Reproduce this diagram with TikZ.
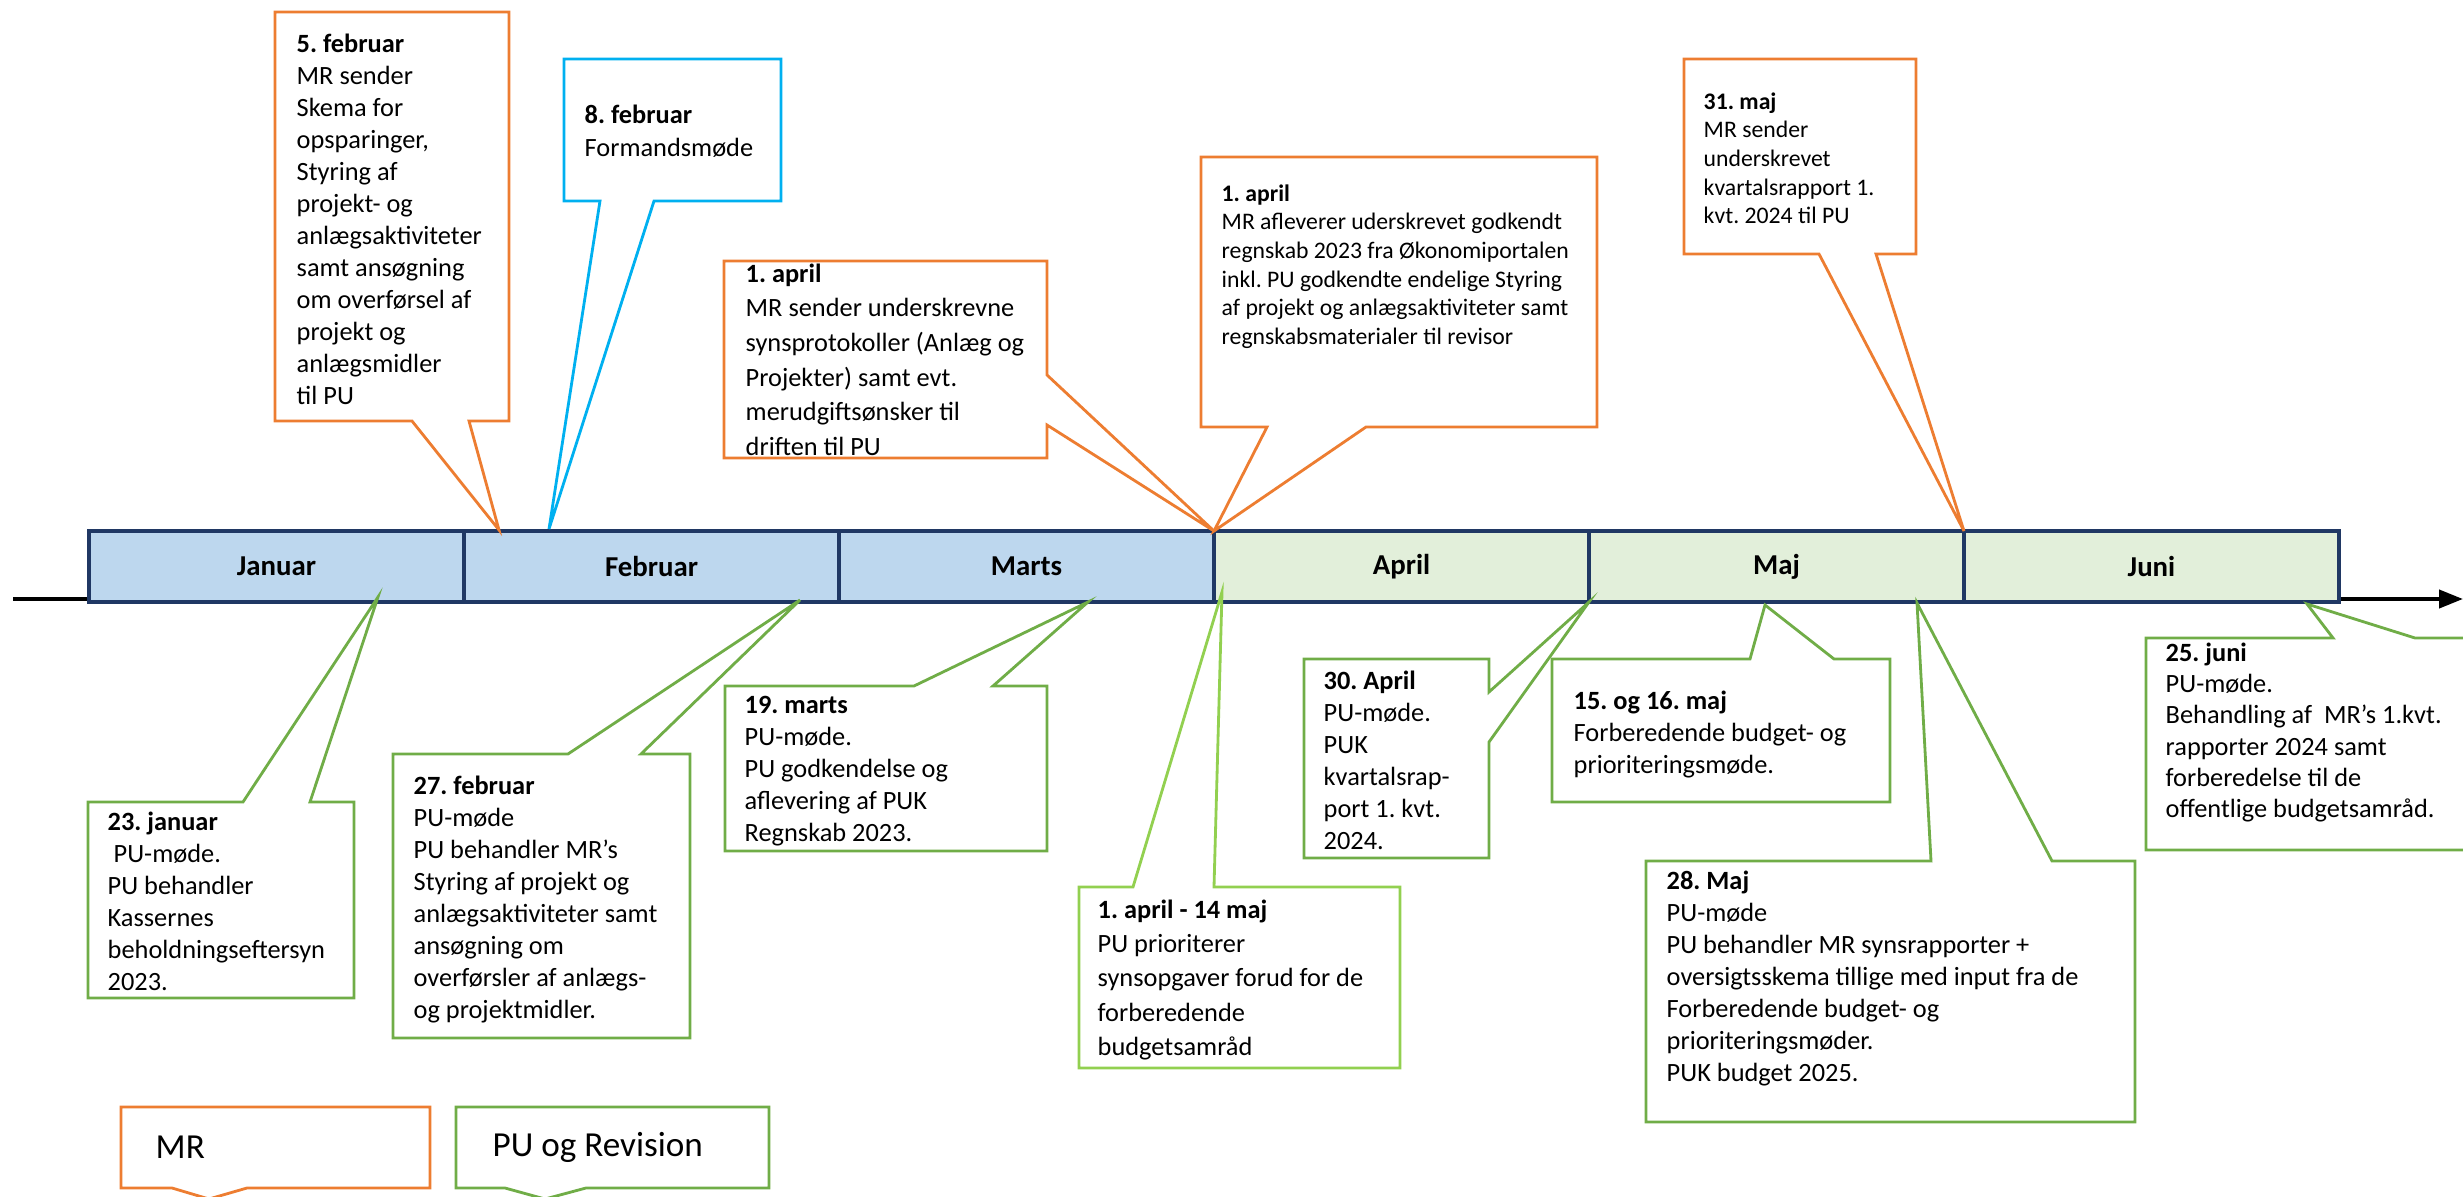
\documentclass[tikz,border=0pt]{standalone}
\usepackage{fontspec}
\setmainfont{Carlito}
\usetikzlibrary{positioning,arrows.meta}
\frenchspacing

\definecolor{mrorange}{HTML}{ED7D31}
\definecolor{formcyan}{HTML}{00B0F0}
\definecolor{pugreen}{HTML}{70AD47}
\definecolor{pulight}{HTML}{92D050}
\definecolor{monthblue}{HTML}{BDD7EE}
\definecolor{monthgreen}{HTML}{E2EFDA}
\definecolor{monthedge}{HTML}{203864}

\begin{document}
\begin{tikzpicture}[x=0.1mm, y=-0.1mm,
    month/.style={draw=monthedge, line width=0.9pt, minimum width=37.5mm, minimum height=7.1mm,
      inner sep=0pt, outer sep=0pt, font=\fontsize{8.2}{10}\selectfont\bfseries},
    txt/.style={anchor=north west, inner sep=0pt, align=left, font=\fontsize{7.5}{9.1}\selectfont},
    smalltxt/.style={font=\fontsize{6.75}{8.15}\selectfont},
    mrcall/.style={draw=mrorange, line width=0.8pt, fill=white},
    formcall/.style={draw=formcyan, line width=0.8pt, fill=white},
    pucall/.style={draw=pugreen, line width=0.8pt, fill=white},
    legtxt/.style={anchor=west, inner sep=0pt, font=\fontsize{10}{12}\selectfont}]
      \useasboundingbox (0,0) rectangle (2463,1197);

      % time axis
      \coordinate (axisstart) at (13,599);
      \coordinate (axisend) at (2463,599);
      \draw[line width=1.15pt, -{Triangle[length=2.4mm,width=1.8mm]}] (axisstart) -- (axisend);

      % months
      \node [month, fill=monthblue, anchor=north west] (jan) at (89,531) {Januar};
      \node [month, fill=monthblue, right=0pt of jan] (feb) {Februar};
      \node [month, fill=monthblue, right=0pt of feb] (mar) {Marts};
      \node [month, fill=monthgreen, right=0pt of mar] (apr) {April};
      \node [month, fill=monthgreen, right=0pt of apr] (maj) {Maj};
      \node [month, fill=monthgreen, right=0pt of maj] (jun) {Juni};

      % tips on the axis
      \coordinate (feb5tip) at (499,530);
      \coordinate (feb8tip) at (549,529);
      \coordinate (apr1tip) at (apr.north west);
      \coordinate (maj31tip) at (jun.north west);
      \coordinate (jan23tip) at (378,597);
      \coordinate (feb27tip) at (800,600);
      \coordinate (mar19tip) at (1088,602);
      \coordinate (apr14tip) at (1222,592);
      \coordinate (apr30tip) at (maj.south west);
      \coordinate (maj15tip) at (1765,605);
      \coordinate (maj28tip) at (1917,603);
      \coordinate (jun25tip) at (2307,604);

      % upper callouts (MR)
      \draw [mrcall] (275,421) -- (275,12) -- (509,12) -- (509,421) -- (469,421) -- (feb5tip) -- (412,421) -- cycle;
      \draw [formcall] (564,201) -- (564,59) -- (781,59) -- (781,201) -- (654,201) -- (feb8tip) -- (600,201) -- cycle;
      \draw [mrcall] (724,261) -- (1047,261) -- (1047,375) -- (apr1tip) -- (1047,425) -- (1047,458) -- (724,458) -- cycle;
      \draw [mrcall] (1201,157) -- (1597,157) -- (1597,427) -- (1366,427) -- (apr1tip) -- (1267,427) -- (1201,427) -- cycle;
      \draw [mrcall] (1684,59) -- (1916,59) -- (1916,254) -- (1876,254) -- (maj31tip) -- (1819,254) -- (1684,254) -- cycle;

      \node [txt] (feb5) at (296,33) {\textbf{5. februar}\\MR sender\\Skema for\\opsparinger,\\Styring af\\projekt- og\\anlægsaktiviteter\\samt ansøgning\\om overførsel af\\projekt og\\anlægsmidler\\til PU};
      \node [txt, font=\fontsize{7.5}{9.4}\selectfont] (feb8) at (584,104) {\textbf{8. februar}\\Formandsmøde};
      \node [txt, font=\fontsize{7.5}{9.87}\selectfont] (apr1a) at (745,263) {\textbf{1. april}\\MR sender underskrevne\\synsprotokoller (Anlæg og\\Projekter) samt evt.\\merudgiftsønsker til\\driften til PU};
      \node [txt, smalltxt] (apr1b) at (1221,184) {\textbf{1. april}\\MR afleverer uderskrevet godkendt\\regnskab 2023 fra Økonomiportalen\\inkl. PU godkendte endelige Styring\\af projekt og anlægsaktiviteter samt\\regnskabsmaterialer til revisor};
      \node [txt, smalltxt] (maj31) at (1703,92) {\textbf{31. maj}\\MR sender\\underskrevet\\kvartalsrapport 1.\\kvt. 2024 til PU};

      % lower callouts (PU og Revision)
      \draw [pucall] (88,802) -- (243,802) -- (jan23tip) -- (310,802) -- (354,802) -- (354,998) -- (88,998) -- cycle;
      \draw [pucall] (393,754) -- (568,754) -- (feb27tip) -- (641,754) -- (690,754) -- (690,1038) -- (393,1038) -- cycle;
      \draw [pucall] (725,686) -- (914,686) -- (mar19tip) -- (993,686) -- (1047,686) -- (1047,851) -- (725,851) -- cycle;
      \draw [pucall, draw=pulight] (1079,887) -- (1133,887) -- (apr14tip) -- (1214,887) -- (1400,887) -- (1400,1068) -- (1079,1068) -- cycle;
      \draw [pucall] (1304,659) -- (1489,659) -- (1489,692) -- (apr30tip) -- (1489,742) -- (1489,858) -- (1304,858) -- cycle;
      \draw [pucall] (1552,659) -- (1750,659) -- (maj15tip) -- (1834,659) -- (1890,659) -- (1890,802) -- (1552,802) -- cycle;
      \draw [pucall] (1646,861) -- (1931,861) -- (maj28tip) -- (2052,861) -- (2135,861) -- (2135,1122) -- (1646,1122) -- cycle;
      \draw [pucall] (2146,638) -- (2333,638) -- (jun25tip) -- (2415,638) -- (2475,638) -- (2475,850) -- (2146,850) -- cycle;

      \node [txt] (jan23) at (107,811) {\textbf{23. januar}\\\ PU-møde.\\PU behandler\\Kassernes\\beholdningseftersyn\\2023.};
      \node [txt] (feb27) at (413,775) {\textbf{27. februar}\\PU-møde\\PU behandler MR’s\\Styring af projekt og\\anlægsaktiviteter samt\\ansøgning om\\overførsler af anlægs-\\og projektmidler.};
      \node [txt] (mar19) at (744,696) {\textbf{19. marts}\\PU-møde.\\PU godkendelse og\\aflevering af PUK\\Regnskab 2023.};
      \node [txt, font=\fontsize{7.5}{9.76}\selectfont] (apr14) at (1097,899) {\textbf{1. april - 14 maj}\\PU prioriterer\\synsopgaver forud for de\\forberedende\\budgetsamråd};
      \node [txt] (apr30) at (1323,670) {\textbf{30. April}\\PU-møde.\\PUK\\kvartalsrap-\\port 1. kvt.\\2024.};
      \node [txt] (maj15) at (1573,690) {\textbf{15. og 16. maj}\\Forberedende budget- og\\prioriteringsmøde.};
      \node [txt] (maj28) at (1666,870) {\textbf{28. Maj}\\PU-møde\\PU behandler MR synsrapporter +\\oversigtsskema tillige med input fra de\\Forberedende budget- og\\prioriteringsmøder.\\PUK budget 2025.};
      \node [txt, font=\fontsize{7.5}{8.9}\selectfont] (jun25) at (2165,642) {\textbf{25. juni}\\PU-møde.\\Behandling af \ MR’s 1.kvt.\\rapporter 2024 samt\\forberedelse til de\\offentlige budgetsamråd.};

      % legend
      \coordinate (legmrtip) at (209,1199);
      \coordinate (legputip) at (545,1199);
      \draw [mrcall] (121,1107) -- (430,1107) -- (430,1188) -- (247,1188) -- (legmrtip) -- (172,1188) -- (121,1188) -- cycle;
      \draw [pucall] (456,1107) -- (769,1107) -- (769,1188) -- (586,1188) -- (legputip) -- (505,1188) -- (456,1188) -- cycle;
      \node [legtxt] (legmr) at (155,1147) {MR};
      \node [legtxt] (legpu) at (492,1147) {PU og Revision};
    \end{tikzpicture}
\end{document}
